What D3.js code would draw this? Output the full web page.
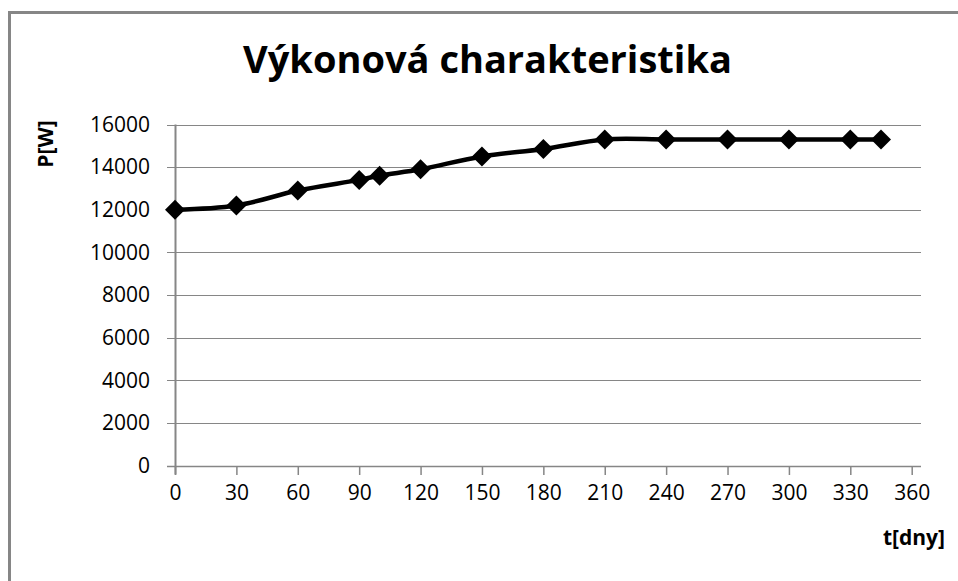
<!DOCTYPE html>
<html>
<head>
<meta charset="utf-8">
<script src="https://cdn.jsdelivr.net/npm/d3@7"></script>
<style>
  body { margin: 0; background: #fff; }
  text { font-family: "Open Sans", "Liberation Sans", sans-serif; }
</style>
</head>
<body>
<div class="chart"></div>
<script>
// data
var days = [0, 30, 60, 90, 100, 120, 150, 180, 210, 240, 270, 300, 330, 345];
var power = [12000, 12200, 12900, 13400, 13600, 13900, 14500, 14850, 15300, 15300, 15300, 15300, 15300, 15300];
var xTicks = [0, 30, 60, 90, 120, 150, 180, 210, 240, 270, 300, 330, 360];
var yTicks = [0, 2000, 4000, 6000, 8000, 10000, 12000, 14000, 16000];

var svgWidth = 958;
var svgHeight = 581;

// plot area
var margin = { top: 124.5, left: 175, right: 911.7, bottom: 465.5 };
var plotRight = 921;
var gridColor = "#868686";

var svg = d3.select(".chart").append("svg")
    .attr("width", svgWidth)
    .attr("height", svgHeight);

// outer chart border (right and bottom run off the picture)
svg.append("rect")
    .attr("x", 9.5)
    .attr("y", 12.5)
    .attr("width", 980)
    .attr("height", 600)
    .attr("fill", "none")
    .attr("stroke", gridColor)
    .attr("stroke-width", 3);

var xScale = d3.scaleLinear()
    .domain([0, 360])
    .range([margin.left, margin.right]);

var yScale = d3.scaleLinear()
    .domain([0, 16000])
    .range([margin.bottom, margin.top]);

// horizontal gridlines
svg.append("g")
    .selectAll("line")
    .data(yTicks)
    .enter()
    .append("line")
    .attr("x1", margin.left - 8)
    .attr("x2", plotRight)
    .attr("y1", d => Math.round(yScale(d)) + 0.5)
    .attr("y2", d => Math.round(yScale(d)) + 0.5)
    .attr("stroke", gridColor)
    .attr("stroke-width", d => d === 0 ? 1.5 : 1.2);

// y axis labels
svg.append("g")
    .selectAll("text")
    .data(yTicks)
    .enter()
    .append("text")
    .attr("x", 150)
    .attr("y", d => yScale(d))
    .attr("dy", "0.35em")
    .attr("text-anchor", "end")
    .attr("font-size", 21)
    .attr("fill", "#000")
    .text(d => d);

// y axis line
svg.append("line")
    .attr("x1", margin.left + 0.5)
    .attr("x2", margin.left + 0.5)
    .attr("y1", margin.top)
    .attr("y2", margin.bottom + 9)
    .attr("stroke", gridColor)
    .attr("stroke-width", 2);

// x axis, ticks go down
var bottomAxis = d3.axisBottom(xScale)
    .tickValues(xTicks)
    .tickSize(9)
    .tickPadding(10)
    .tickSizeOuter(0);

var xAxis = svg.append("g")
    .attr("transform", `translate(0, ${Math.round(margin.bottom)})`)
    .call(bottomAxis);

xAxis.select(".domain").remove();
xAxis.selectAll("line").attr("stroke", gridColor).attr("stroke-width", 1.5);
xAxis.selectAll("text")
    .attr("font-size", 21)
    .attr("font-family", "Open Sans")
    .attr("fill", "#000");

// series line (smoothed like the original)
var line = d3.line()
    .x(d => xScale(d[0]))
    .y(d => yScale(d[1]))
    .curve(d3.curveCatmullRom.alpha(0.5));

var points = days.map((d, i) => [d, power[i]]);

svg.append("path")
    .datum(points)
    .attr("d", line)
    .attr("fill", "none")
    .attr("stroke", "#000")
    .attr("stroke-width", 4.5)
    .attr("stroke-linejoin", "round");

// diamond markers
svg.append("g")
    .selectAll("path")
    .data(points)
    .enter()
    .append("path")
    .attr("transform", d => `translate(${xScale(d[0])}, ${yScale(d[1])})`)
    .attr("d", "M0,-10L10,0L0,10L-10,0Z")
    .attr("fill", "#000");

// title
var title = svg.append("text")
    .attr("x", 487.5)
    .attr("y", 73)
    .attr("text-anchor", "middle")
    .attr("font-size", 38)
    .attr("font-weight", "bold")
    .attr("fill", "#000")
    .text("Výkonová charakteristika");

if (title.node().getComputedTextLength() > 499) {
    title.attr("textLength", 499).attr("lengthAdjust", "spacingAndGlyphs");
}

// axis titles
svg.append("text")
    .attr("transform", "translate(53, 144) rotate(-90)")
    .attr("text-anchor", "middle")
    .attr("font-size", 21)
    .attr("font-weight", "bold")
    .attr("fill", "#000")
    .text("P[W]");

svg.append("text")
    .attr("x", 945)
    .attr("y", 545)
    .attr("text-anchor", "end")
    .attr("font-size", 21)
    .attr("font-weight", "bold")
    .attr("fill", "#000")
    .text("t[dny]");
</script>
</body>
</html>
